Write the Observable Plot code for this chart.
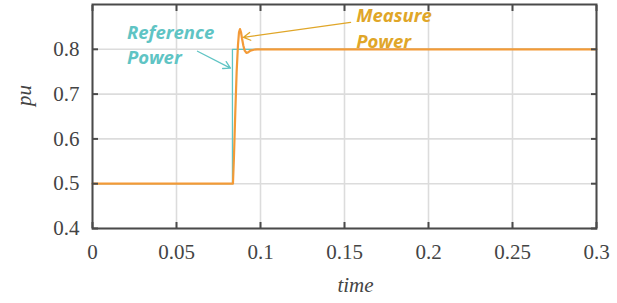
<!DOCTYPE html>
<html>
<head>
<meta charset="utf-8">
<script src="https://cdn.jsdelivr.net/npm/d3@7"></script>
<script src="https://cdn.jsdelivr.net/npm/@observablehq/plot@0.6"></script>
<style>
  html, body { margin: 0; padding: 0; background: #fff; }
</style>
</head>
<body>
<div id="chart"></div>
<script>
const xTicks = [0, 0.05, 0.1, 0.15, 0.2, 0.25, 0.3];
const xTickLabels = ["0", "0.05", "0.1", "0.15", "0.2", "0.25", "0.3"];
const yTicks = [0.4, 0.5, 0.6, 0.7, 0.8];

const refTime = [0, 0.0833, 0.0833, 0.3];
const refValue = [0.5, 0.5, 0.8, 0.8];

const measTime = [0, 0.0836, 0.0842, 0.0850, 0.0858, 0.0866, 0.0872, 0.0878, 0.0884, 0.0890, 0.0898, 0.0906, 0.0916, 0.0926, 0.0940, 0.0960, 0.0980, 0.1000, 0.3];
const measValue = [0.5, 0.5, 0.56, 0.66, 0.75, 0.81, 0.838, 0.845, 0.838, 0.824, 0.808, 0.797, 0.792, 0.793, 0.797, 0.799, 0.800, 0.800, 0.800];

const labels = ["Reference\nPower", "Measure\nPower"];
const labelTime = [0.0205, 0.157];
const labelValue = [0.8135, 0.850];
const labelColor = ["#5fc4c4", "#e0a628"];
const arrowFrom = [[0.0625, 0.7956], [0.1536, 0.860]];
const arrowTo = [[0.0821, 0.758], [0.0899, 0.8267]];

const ref = refTime.map((t, i) => ({t, v: refValue[i]}));
const meas = measTime.map((t, i) => ({t, v: measValue[i]}));
const ann = labels.map((text, i) => ({
  text, t: labelTime[i], v: labelValue[i], color: labelColor[i],
  x1: arrowFrom[i][0], y1: arrowFrom[i][1], x2: arrowTo[i][0], y2: arrowTo[i][1]
}));

const chart = Plot.plot({
  width: 617,
  height: 303,
  marginLeft: 92,
  marginRight: 21,
  marginTop: 4,
  marginBottom: 75,
  style: "font-size: 17px; color: #444; background: #fff; overflow: visible;",
  x: {domain: [0, 0.3], ticks: xTicks},
  y: {domain: [0.4, 0.9], ticks: yTicks},
  marks: [
    Plot.gridX(xTicks, {stroke: "#dcdcdc", strokeOpacity: 1, strokeWidth: 1.6}),
    Plot.gridY(yTicks, {stroke: "#dcdcdc", strokeOpacity: 1, strokeWidth: 1.6}),
    Plot.line(ref, {x: "t", y: "v", stroke: "#5fc4c4", strokeWidth: 1.3}),
    Plot.line(meas, {x: "t", y: "v", stroke: "#f39a37", strokeWidth: 2.2}),
    Plot.frame({stroke: "#4a4a4a", strokeWidth: 2}),
    Plot.axisX(xTicks, {anchor: "bottom", tickSize: -6, tickFormat: () => "", label: null, stroke: "#4a4a4a", strokeWidth: 2}),
    Plot.axisX(xTicks, {anchor: "top", tickSize: -6, tickFormat: () => "", label: null, stroke: "#4a4a4a", strokeWidth: 2}),
    Plot.axisY(yTicks, {anchor: "left", tickSize: -6, tickFormat: () => "", label: null, stroke: "#4a4a4a", strokeWidth: 2}),
    Plot.axisY(yTicks, {anchor: "right", tickSize: -6, tickFormat: () => "", label: null, stroke: "#4a4a4a", strokeWidth: 2}),
    Plot.axisX(xTicks, {anchor: "bottom", tickSize: 0, tickPadding: 16, tickFormat: (d, i) => xTickLabels[i], label: null, fill: "#444", fontSize: 21}),
    Plot.axisY(yTicks, {anchor: "left", tickSize: 0, tickPadding: 13, tickFormat: d => d.toFixed(1), label: null, fill: "#444", fontSize: 21}),
    Plot.text(["time"], {frameAnchor: "bottom", dx: 11, dy: 63, fontStyle: "italic", fontSize: 21, fill: "#444"}),
    Plot.text(["pu"], {frameAnchor: "left", dx: -68, dy: -21, rotate: -90, textAnchor: "middle", fontStyle: "italic", fontSize: 21, fill: "#444"}),
    Plot.arrow(ann, {x1: "x1", y1: "y1", x2: "x2", y2: "y2", stroke: "color", strokeWidth: 1.3, headLength: 9}),
    Plot.text(ann, {x: "t", y: "v", text: "text", fill: "color", textAnchor: "start", lineAnchor: "middle", lineHeight: 1.4, fontWeight: "bold", fontStyle: "italic", fontSize: 18.5})
  ]
});
chart.setAttribute("font-family", "Liberation Serif");
d3.select(chart).selectAll("g").attr("font-family", null);
d3.select(chart).selectAll("text").each(function () {
  const isAnn = labelColor.includes(this.getAttribute("fill"));
  this.setAttribute("font-family", isAnn ? "Open Sans" : "Liberation Serif");
  this.style.setProperty("font-family", isAnn ? "'Open Sans'" : "'Liberation Serif'", "important");
});
document.getElementById("chart").appendChild(chart);
</script>
</body>
</html>
